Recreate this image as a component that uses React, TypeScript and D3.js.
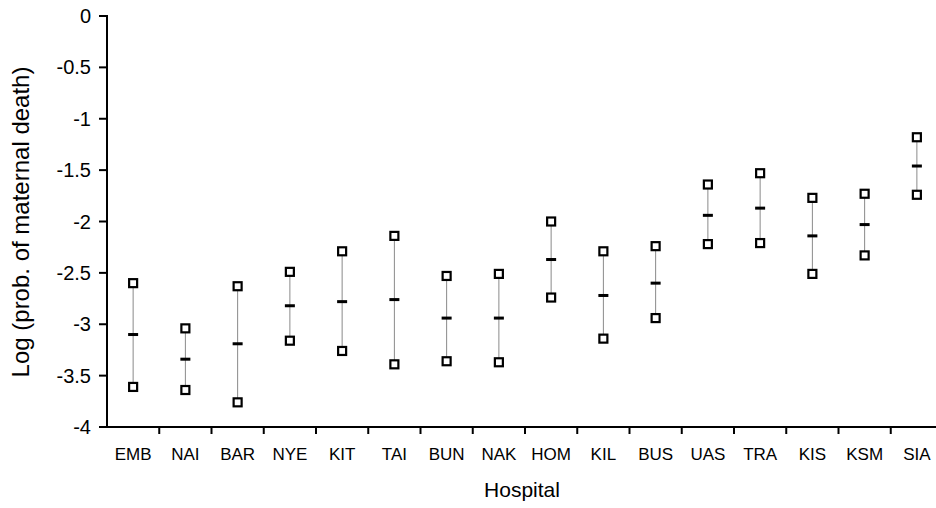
import React from "react";
import * as d3 from "d3";

const hospitals = ["EMB","NAI","BAR","NYE","KIT","TAI","BUN","NAK","HOM","KIL","BUS","UAS","TRA","KIS","KSM","SIA"];
const upper = [-2.60,-3.04,-2.63,-2.49,-2.29,-2.14,-2.53,-2.51,-2.00,-2.29,-2.24,-1.64,-1.53,-1.77,-1.73,-1.18];
const mid = [-3.10,-3.34,-3.19,-2.82,-2.78,-2.76,-2.94,-2.94,-2.37,-2.72,-2.60,-1.94,-1.87,-2.14,-2.03,-1.46];
const lower = [-3.61,-3.64,-3.76,-3.16,-3.26,-3.39,-3.36,-3.37,-2.74,-3.14,-2.94,-2.22,-2.21,-2.51,-2.33,-1.74];
const yTicks = [0,-0.5,-1,-1.5,-2,-2.5,-3,-3.5,-4];

const W = 936, H = 508;
const left = 107, top = 16, bottom = 427;
const bandW = 52.25;

export default function App() {
  const x = d3.scaleBand<string>().domain(hospitals).range([left, left + bandW * hospitals.length]).padding(0);
  const y = d3.scaleLinear().domain([-4, 0]).range([bottom, top]);
  const font = "Arial, 'Liberation Sans', sans-serif";
  const fmt = (v: number) => (v === 0 ? "0" : String(v));
  return (
    <svg width={W} height={H} style={{ position: "absolute", left: 0, top: 0, background: "#fff" }} fontFamily={font}>
      {/* y axis */}
      <line x1={left} x2={left} y1={top - 1} y2={bottom} stroke="#000" strokeWidth={2} />
      {yTicks.map((t) => (
        <g key={t}>
          <line x1={left - 8} x2={left} y1={y(t)} y2={y(t)} stroke="#000" strokeWidth={2} />
          <text x={91} y={y(t)} dy="0.35em" textAnchor="end" fontSize={20} fill="#000">{fmt(t)}</text>
        </g>
      ))}
      <text transform={`translate(29,${222}) rotate(-90)`} textAnchor="middle" fontSize={24} fill="#000">
        Log (prob. of maternal death)
      </text>
      {/* x axis */}
      <line x1={left - 1} x2={W} y1={bottom} y2={bottom} stroke="#000" strokeWidth={2} />
      {hospitals.map((h) => (
        <g key={h}>
          <line x1={(x(h) as number) + bandW} x2={(x(h) as number) + bandW} y1={bottom} y2={bottom + 7} stroke="#000" strokeWidth={2} />
          <text x={(x(h) as number) + bandW / 2} y={460} textAnchor="middle" fontSize={17} fill="#000">{h}</text>
        </g>
      ))}
      <text x={522} y={497} textAnchor="middle" fontSize={21} fill="#000">Hospital</text>
      {/* marks */}
      {hospitals.map((h, i) => {
        const cx = (x(h) as number) + bandW / 2;
        return (
          <g key={h + "m"}>
            <line x1={cx} x2={cx} y1={y(upper[i])} y2={y(lower[i])} stroke="#8a8a8a" strokeWidth={1} />
            <rect x={cx - 5} y={y(mid[i]) - 1.5} width={10} height={3} fill="#000" />
            <rect x={cx - 4} y={y(upper[i]) - 4} width={8} height={8} fill="#fff" stroke="#000" strokeWidth={2.2} />
            <rect x={cx - 4} y={y(lower[i]) - 4} width={8} height={8} fill="#fff" stroke="#000" strokeWidth={2.2} />
          </g>
        );
      })}
    </svg>
  );
}
